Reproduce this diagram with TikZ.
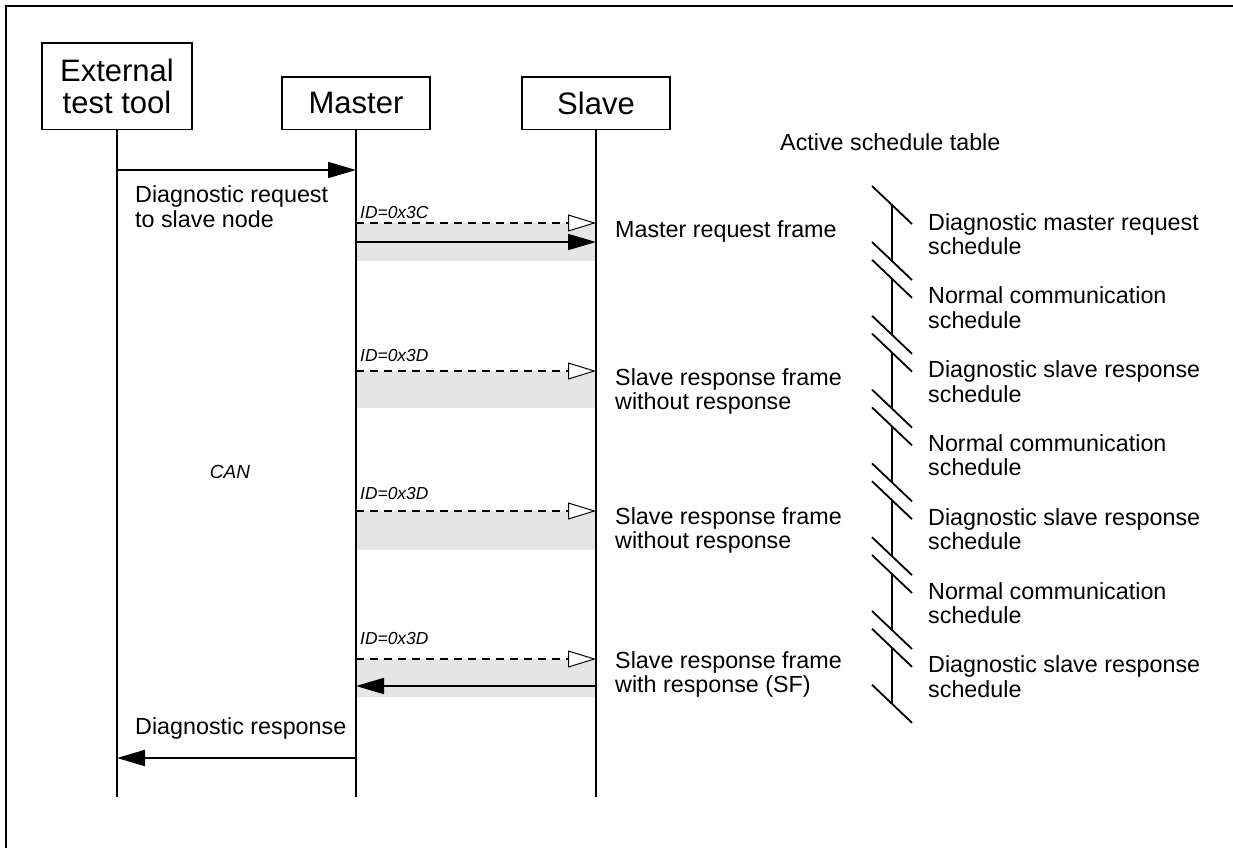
\documentclass[tikz,border=0pt]{standalone}
\usepackage{fontspec}
\setmainfont{Liberation Sans}
\usetikzlibrary{arrows.meta}
\newcommand{\txtsize}{\fontsize{23.3}{24.5}\selectfont}
\newcommand{\boxsize}{\fontsize{31}{32}\selectfont}
\newcommand{\idsize}{\fontsize{17.4}{18}\selectfont\itshape}

\begin{document}
\begin{tikzpicture}[x=1pt,y=-1pt,
        every node/.style={inner sep=0pt},
        actor/.style={draw,line width=1.5pt,minimum width=150pt,align=center,font=\boxsize,anchor=south},
        life/.style={line width=1.6pt},
        slash/.style={line width=1.8pt},
        msg/.style={line width=2pt,-{Triangle[length=28pt,width=16pt]}},
        header/.style={line width=1.5pt,dash pattern=on 8pt off 6pt,-{Triangle[length=28pt,width=17pt,fill=white,line width=1pt]}},
        band/.style={fill=gray!20},
        lbl/.style={anchor=west,align=left,font=\txtsize},
        idlbl/.style={anchor=west,font=\idsize}]
        \useasboundingbox (0,0) rectangle (1233,848);
        \draw[line width=2pt] (6,848) -- (6,6) -- (1233,6);
        \node[actor,minimum height=86pt] (ext) at (117,130) {External\\test tool};
        \node[actor,minimum width=148pt,minimum height=52pt] (master) at (356,130) {Master};
        \node[actor,minimum width=148pt,minimum height=52pt] (slave) at (596,130) {Slave};
        \path (ext.south |- 0,797) coordinate (extE) (master.south |- 0,797) coordinate (masE) (slave.south |- 0,797) coordinate (slvE);
        \foreach \n/\yh/\yb/\yi/\id in {1/223/261/213/C, 2/371/408/356/D, 3/511/550/494/D, 4/659/697/639/D} {
            \fill[band] (master.south |- 0,\yh) rectangle (slave.south |- 0,\yb);
            \path (master.south |- 0,\yh) coordinate (h\n-a) (slave.south |- 0,\yh) coordinate (h\n-b);
            \draw[header] (h\n-a) -- (h\n-b);
            \node[idlbl] (id\n) at (360,\yi) {ID=0x3\id};
        }
        \draw[life] (ext.south) -- (extE);
        \draw[life] (master.south) -- (masE);
        \draw[life] (slave.south) -- (slvE);
        \path (ext.south |- 0,170) coordinate (dreq0) (master.south |- 0,170) coordinate (dreq1);
        \draw[msg] (dreq0) -- (dreq1);
        \node[lbl] (dreq) at (135,206.5) {Diagnostic request\\to slave node};
        \path (master.south |- 0,242) coordinate (mreq0) (slave.south |- 0,242) coordinate (mreq1);
        \draw[msg] (mreq0) -- (mreq1);
        \path (slave.south |- 0,686) coordinate (sresp0) (master.south |- 0,686) coordinate (sresp1);
        \draw[msg] (sresp0) -- (sresp1);
        \path (master.south |- 0,758) coordinate (dresp0) (ext.south |- 0,758) coordinate (dresp1);
        \draw[msg] (dresp0) -- (dresp1);
        \node[lbl] (dresp) at (135,728) {Diagnostic response};
        \node[lbl] (fr1) at (615,231) {Master request frame};
        \node[lbl] (fr2) at (615,391.5) {Slave response frame\\without response};
        \node[lbl] (fr3) at (615,530.5) {Slave response frame\\without response};
        \node[lbl] (fr4) at (615,674.5) {Slave response frame\\with response (SF)};
        \node[font=\fontsize{19}{20}\selectfont\itshape] (can) at (230,472) {CAN};
        \node[lbl] (active) at (780,142) {Active schedule table};
        \foreach \i/\txt in {0/Diagnostic master request, 1/Normal communication, 2/Diagnostic slave response, 3/Normal communication, 4/Diagnostic slave response, 5/Normal communication, 6/Diagnostic slave response} {
            \pgfmathsetmacro{\ytop}{205+73.8*\i}
            \pgfmathsetmacro{\ybot}{\ytop+56}
            \coordinate (seg\i-t) at (892,\ytop);
            \coordinate (seg\i-b) at (892,\ybot);
            \draw[life] (seg\i-t) -- (seg\i-b);
            \draw[slash] ([shift={(-20,-19)}]seg\i-t) -- ([shift={(20,19)}]seg\i-t);
            \draw[slash] ([shift={(-20,-19)}]seg\i-b) -- ([shift={(20,19)}]seg\i-b);
            \node[lbl] (sched\i) at (928,\ytop+29) {\txt\\schedule};
        }
        \end{tikzpicture}
\end{document}
